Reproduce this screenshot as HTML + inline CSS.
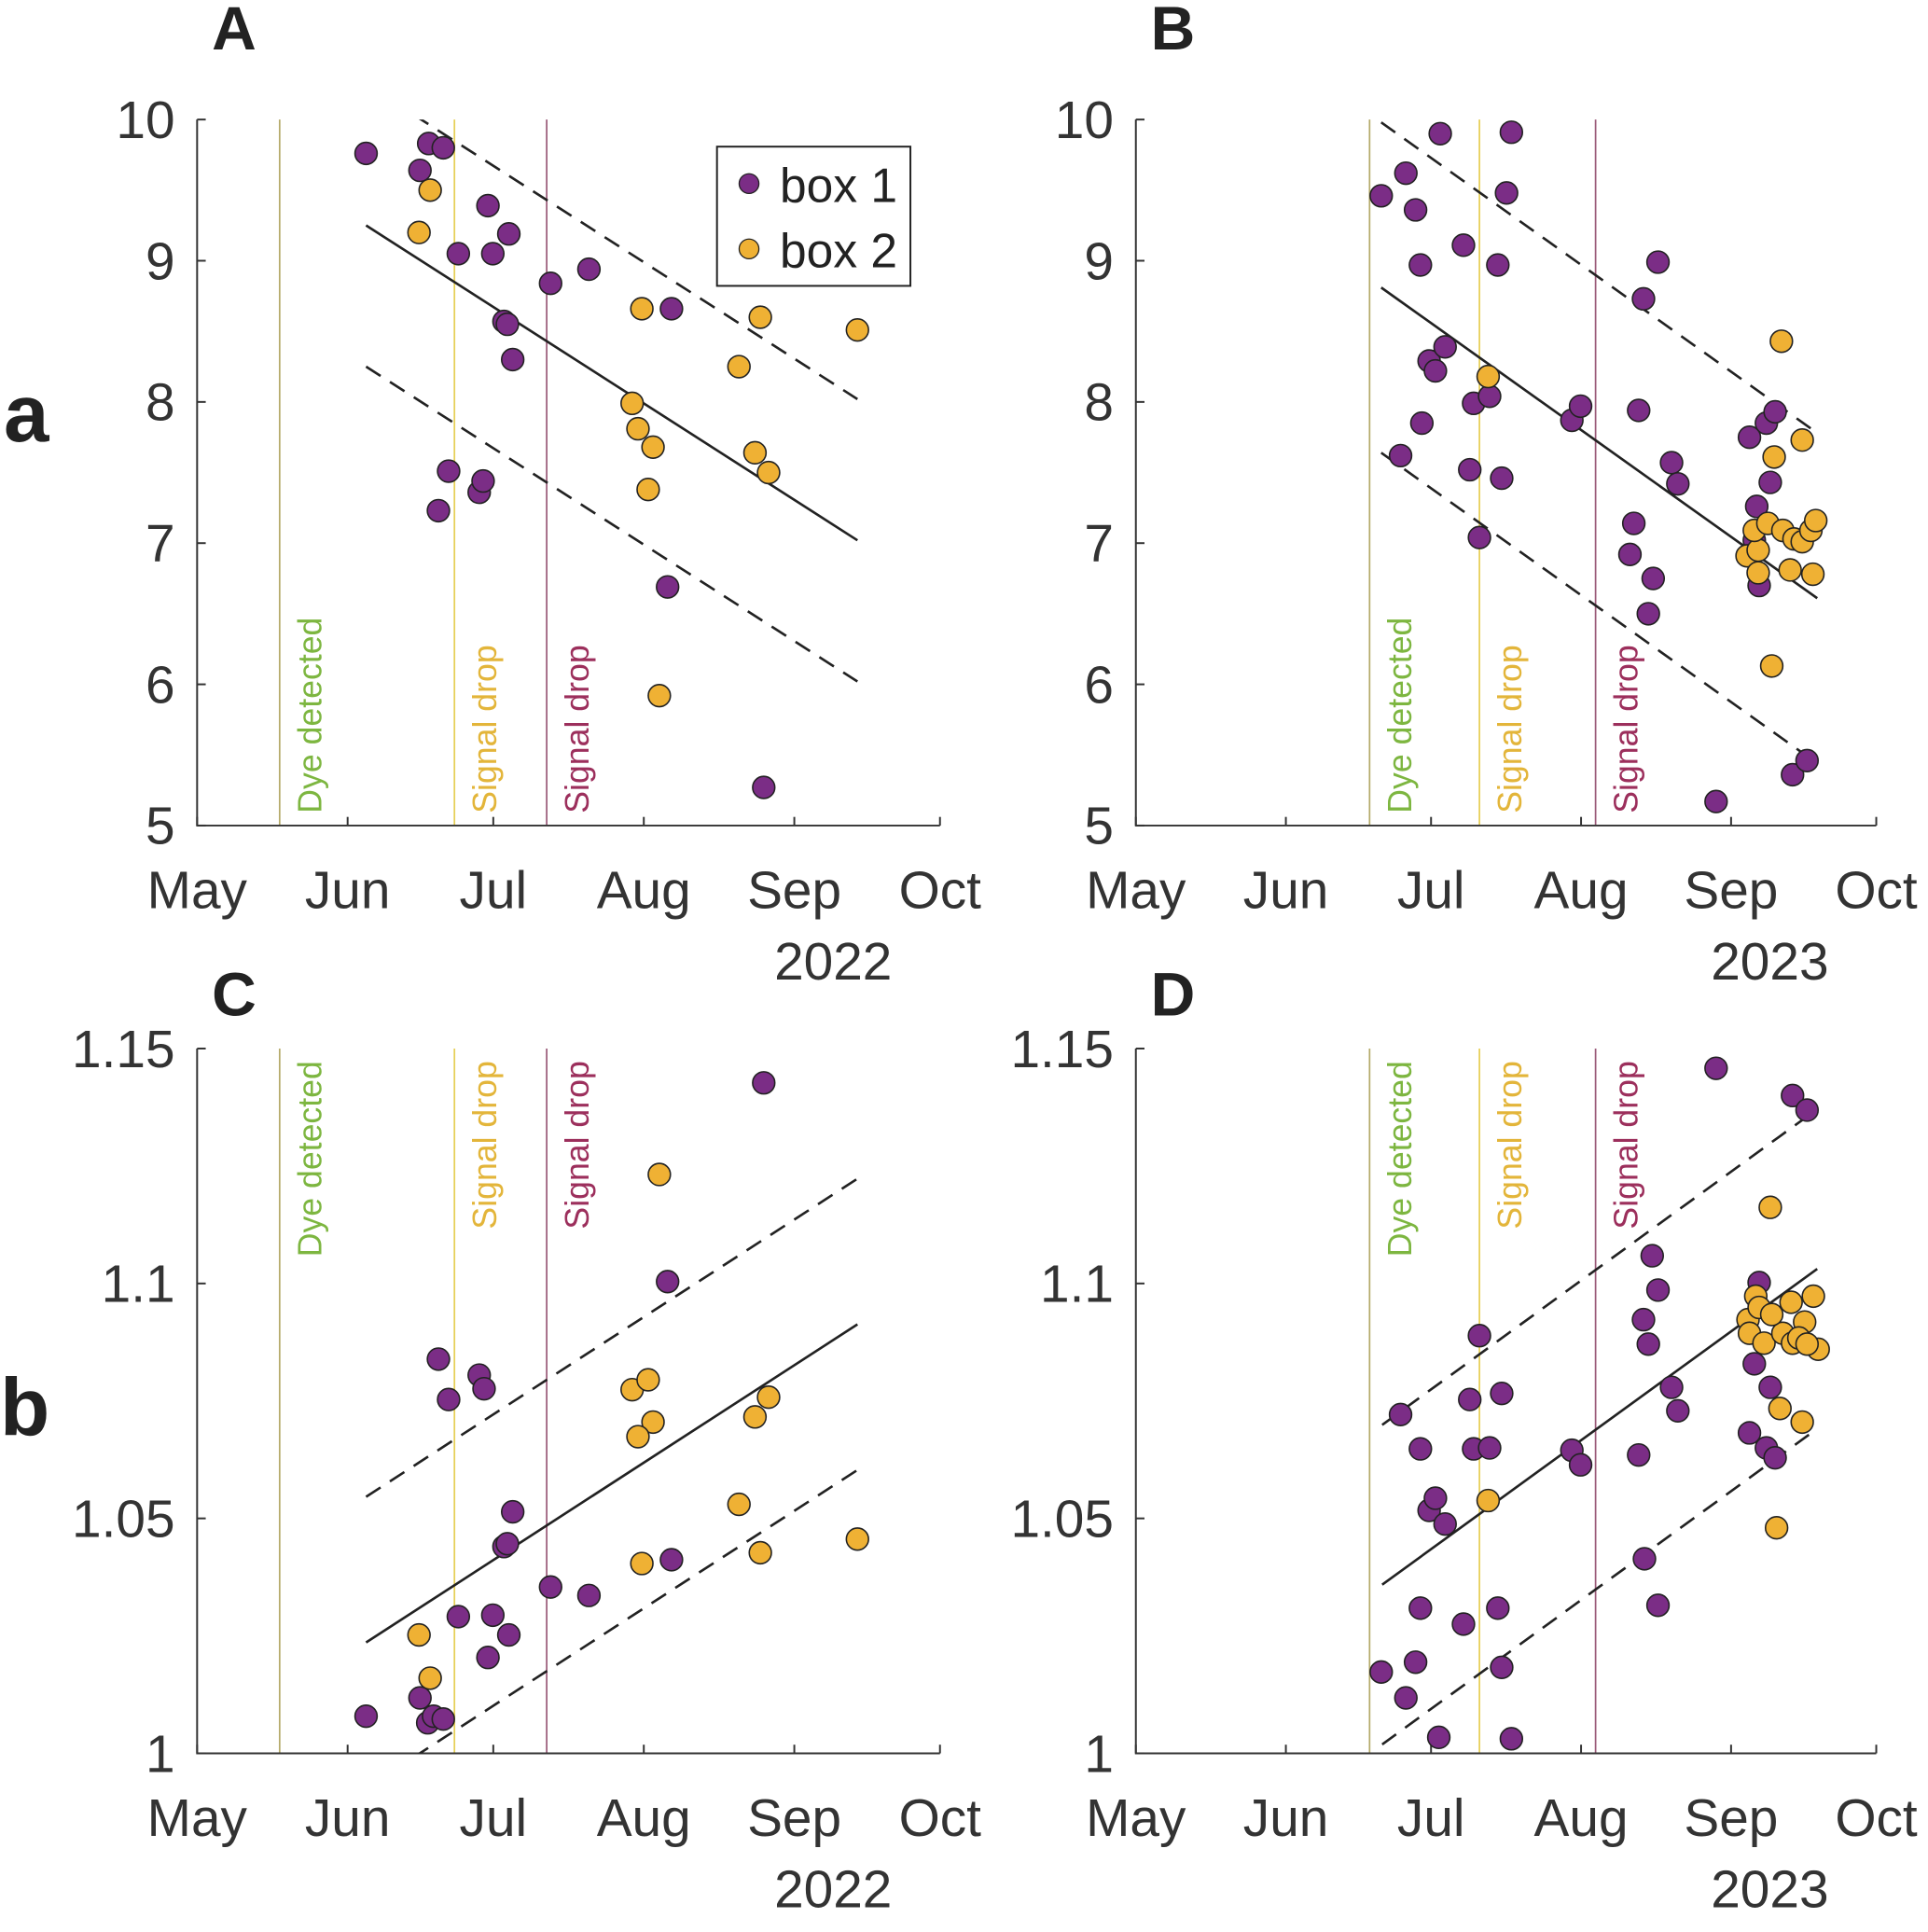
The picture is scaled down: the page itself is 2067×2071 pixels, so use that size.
<!DOCTYPE html>
<html><head><meta charset="utf-8"><style>
html,body{margin:0;padding:0;background:#fff}
svg{display:block;font-family:"Liberation Sans",Arial,sans-serif}
</style></head><body>
<svg id="fig" width="2067" height="2071" viewBox="0 0 1565 1568" xmlns="http://www.w3.org/2000/svg"></svg>
<script>
// ---- data (x in days since May 1) ----
const monthLabels = ["May","Jun","Jul","Aug","Sep","Oct"];
const monthDays = [0,31,61,92,123,153];
const yTicksTop = [5,6,7,8,9,10];
const yTicksBottom = [1,1.05,1.1,1.15];
const yTickLabelsBottom = ["1","1.05","1.1","1.15"];
const events2022 = [17,53,72];
const events2023 = [48.3,71,95];
const eventLabels = ["Dye detected","Signal drop","Signal drop"];

const aBox1Day = [34.8,45.9,47.7,50.7,53.8,59.9,60.9,64.2,63.2,63.9,65.0,72.8,80.7,97.7,49.7,51.8,58.1,58.9,96.9,116.7];
const aBox1Val = [9.76,9.64,9.83,9.80,9.05,9.39,9.05,9.19,8.57,8.55,8.30,8.84,8.94,8.66,7.23,7.51,7.36,7.44,6.69,5.27];
const aBox2Day = [45.7,48.0,91.6,89.6,90.8,93.9,92.9,95.2,111.6,116.0,114.9,117.7,136.0];
const aBox2Val = [9.20,9.50,8.66,7.99,7.81,7.68,7.38,5.92,8.25,8.60,7.64,7.50,8.51];
const aFit = [34.8,136.0,9.25,7.02];
const aBand = 1.0;

const bBox1Day = [50.7,55.8,57.8,62.9,58.8,67.7,77.6,76.6,74.8,54.7,59.1,60.6,61.9,63.9,69.0,69.8,73.1,75.6,71.0,90.1,91.9,104.9,107.9,103.9,102.9,102.1,106.9,105.9,110.7,112.0,119.9,126.8,130.3,132.1,128.3,131.1,127.8,128.8,135.7,138.7];
const bBox1Val = [9.46,9.62,9.36,9.90,8.97,9.11,9.91,9.48,8.97,7.62,7.85,8.29,8.22,8.39,7.52,7.99,8.04,7.46,7.04,7.87,7.97,8.73,8.99,7.94,7.14,6.92,6.75,6.50,7.57,7.42,5.17,7.75,7.85,7.93,7.26,7.43,7.02,6.70,5.36,5.46];
const bBox2Day = [72.8,133.4,131.9,137.7,126.3,128.6,127.8,130.6,133.7,136.0,137.7,139.5,140.5,128.6,135.2,139.9,131.4];
const bBox2Val = [8.18,8.43,7.61,7.73,6.91,6.95,7.09,7.14,7.09,7.03,7.01,7.09,7.16,6.79,6.81,6.78,6.13];
const bFit = [50.7,140.8,8.81,6.61];
const bBand = 1.17;

const cBox1Day = [34.8,45.9,47.5,48.7,50.7,49.7,51.8,58.1,59.1,53.8,59.9,60.9,64.2,63.2,63.9,65.0,72.8,80.7,97.7,96.9,116.7];
const cBox1Val = [1.0079,1.0118,1.0065,1.0079,1.0073,1.0839,1.0753,1.0805,1.0776,1.0291,1.0204,1.0294,1.0252,1.044,1.0446,1.0514,1.0354,1.0336,1.0412,1.1004,1.1427];
const cBox2Day = [48.0,45.7,89.6,92.9,93.9,90.8,95.2,91.6,111.6,116.0,114.9,117.7,136.0];
const cBox2Val = [1.016,1.0252,1.0774,1.0795,1.0705,1.0674,1.1232,1.0404,1.053,1.0427,1.0716,1.0758,1.0456];
const cFit = [34.8,136.0,1.0236,1.0913];
const cBand = 0.031;

const dBox1Day = [50.7,54.7,55.8,57.8,58.8,58.8,60.6,61.9,63.9,62.6,67.7,69.0,69.8,73.1,71.0,75.6,74.8,75.6,77.6,90.1,91.9,104.9,105.9,106.7,107.9,103.9,105.1,107.9,110.7,112.0,119.9,135.7,138.7,126.8,130.3,132.1,127.8,131.1,128.8];
const dBox1Val = [1.0173,1.0721,1.0118,1.0194,1.0309,1.0648,1.0517,1.0543,1.0488,1.0034,1.0275,1.0753,1.0648,1.065,1.0889,1.0183,1.0309,1.0766,1.0031,1.0645,1.0614,1.0923,1.0871,1.1059,1.0986,1.0635,1.0414,1.0315,1.0779,1.0729,1.1458,1.14,1.1369,1.0682,1.065,1.0629,1.0829,1.0779,1.1002];
const dBox2Day = [72.8,131.1,133.1,132.4,126.5,128.1,128.8,126.8,129.8,133.7,135.7,138.2,137.0,135.4,140.0,141.0,138.7,137.7,131.4];
const dBox2Val = [1.0538,1.1162,1.0734,1.048,1.0923,1.0973,1.0949,1.0894,1.0873,1.0894,1.0873,1.0918,1.0884,1.096,1.0973,1.086,1.0871,1.0705,1.0934];
const dFit = [50.9,140.8,1.0359,1.1031];
const dBand = 0.034;

// ---- drawing ----
const NS = "http://www.w3.org/2000/svg";
const svg = document.getElementById("fig");
function mk(tag, attrs, parent){
  const e = document.createElementNS(NS, tag);
  for (const k in attrs) e.setAttribute(k, attrs[k]);
  (parent||svg).appendChild(e); return e;
}
const PURPLE="#7b2d86", YELLOW="#efb134";
const evLine=["#b5aa6a","#e6cf55","#9a5a78"], evText=["#7db640","#e3b53a","#9c2f5c"];

function panel(id, x0, x1, y0, y1, vmin, vmax, ticks, tickLabels, events, b1d, b1v, b2d, b2v, fit, band, year, bottomText){
  const g = mk("g",{});
  
  
  const X = d => x0 + (x1-x0)*d/153;
  const Y = v => y1 - (y1-y0)*(v-vmin)/(vmax-vmin);
  events.forEach((d,i)=>{
    const l = mk("line",{x1:X(d),x2:X(d),y1:y0,y2:y1,stroke:evLine[i],"stroke-width":1.3},g);
    
    
    const tx = X(d)+34;
    const t = mk("text",{fill:evText[i],"font-size":27},g);
    if (bottomText){ t.setAttribute("transform",`translate(${tx},${y1-10}) rotate(-90)`); t.setAttribute("text-anchor","start"); }
    else { t.setAttribute("transform",`translate(${tx},${y0+10}) rotate(-90)`); t.setAttribute("text-anchor","end"); }
    t.textContent = eventLabels[i];
    
    
  });
  const ax = mk("path",{d:`M${x0},${y0}V${y1}H${x1}`,stroke:"#333",fill:"none","stroke-width":1.5},g);
  
  
  ticks.forEach((v,i)=>{
    mk("line",{x1:x0,x2:x0+7,y1:Y(v),y2:Y(v),stroke:"#333","stroke-width":1.5},g);
    const t = mk("text",{x:x0-18,y:Y(v)+15,"text-anchor":"end","font-size":43,fill:"#333"},g);
    t.textContent = tickLabels[i];
    
    
  });
  monthDays.forEach((d,i)=>{
    mk("line",{x1:X(d),x2:X(d),y1:y1,y2:y1-7,stroke:"#333","stroke-width":1.5},g);
    const t = mk("text",{x:X(d),y:y1+67,"text-anchor":"middle","font-size":43,fill:"#333"},g);
    t.textContent = monthLabels[i];
    
    
  });
  const yr = mk("text",{x:X(131),y:y1+125,"text-anchor":"middle","font-size":43,fill:"#333"},g);
  yr.textContent = year;
  
  
  const cid = "clip"+id;
  const cp = mk("clipPath",{id:cid},g); mk("rect",{x:x0,y:y0,width:x1-x0,height:y1-y0},cp);
  [[0,"none","fit-line"],[band,"14 9","upper-band"],[-band,"14 9","lower-band"]].forEach(([o,da,nm])=>{
    const l = mk("line",{x1:X(fit[0]),x2:X(fit[1]),y1:Y(fit[2]+o),y2:Y(fit[3]+o),stroke:"#222","stroke-width":2,"stroke-dasharray":da,"clip-path":`url(#${cid})`},g);
    
    
  });
  b1d.forEach((d,i)=>{
    const c = mk("circle",{cx:X(d),cy:Y(b1v[i]),r:9,fill:PURPLE,stroke:"#222","stroke-width":1.2},g);
    
    
  });
  b2d.forEach((d,i)=>{
    const c = mk("circle",{cx:X(d),cy:Y(b2v[i]),r:9,fill:YELLOW,stroke:"#222","stroke-width":1.2},g);
    
    
  });
}
const topLabels = yTicksTop.map(String);
panel("A",160,763,97,670,5,10,yTicksTop,topLabels,events2022,aBox1Day,aBox1Val,aBox2Day,aBox2Val,aFit,aBand,"2022",true);
panel("B",922,1523,97,670,5,10,yTicksTop,topLabels,events2023,bBox1Day,bBox1Val,bBox2Day,bBox2Val,bFit,bBand,"2023",true);
panel("C",160,763,851,1423,1,1.15,yTicksBottom,yTickLabelsBottom,events2022,cBox1Day,cBox1Val,cBox2Day,cBox2Val,cFit,cBand,"2022",false);
panel("D",922,1523,851,1423,1,1.15,yTicksBottom,yTickLabelsBottom,events2023,dBox1Day,dBox1Val,dBox2Day,dBox2Val,dFit,dBand,"2023",false);

const lg = mk("g",{});


mk("rect",{x:582,y:119,width:157,height:113,fill:"#fff",stroke:"#222","stroke-width":1.5},lg);
[[PURPLE,"box 1",151],[YELLOW,"box 2",204]].forEach(([c,t,y],i)=>{
  mk("circle",{cx:608,cy:y-2,r:8,fill:c,stroke:"#222","stroke-width":1},lg);
  const tx = mk("text",{x:633,y:y+13,"font-size":39,fill:"#222"},lg);
  tx.textContent = t;
  
  
});
[["A",172,40,50],["B",934,40,50],["C",172,824,50],["D",934,824,50],["a",3,358,66],["b",0,1165,66]].forEach(([t,x,y,s])=>{
  const e = mk("text",{x:x,y:y,"font-size":s,"font-weight":"bold",fill:"#222"});
  e.textContent = t;
  
  
});
</script>
</body></html>
